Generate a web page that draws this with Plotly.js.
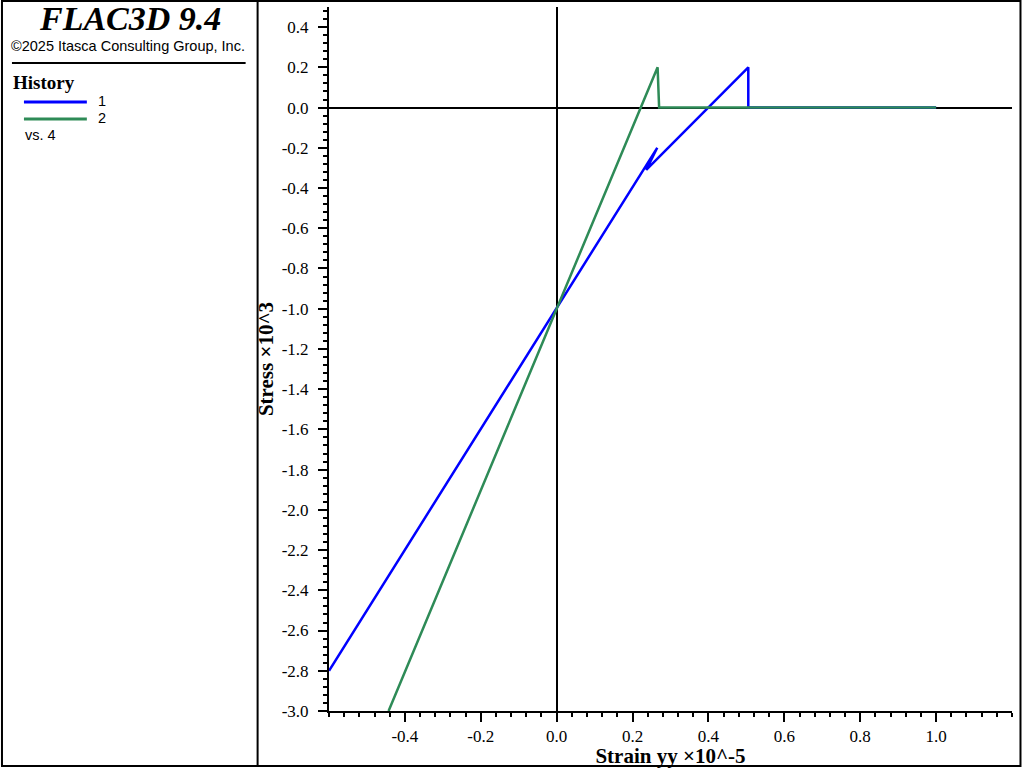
<!DOCTYPE html>
<html>
<head>
<meta charset="utf-8">
<script src="https://cdn.plot.ly/plotly-3.0.1.min.js"></script>
<style>
  body { margin: 0; background: #fff; }
  #chart { width: 1024px; height: 768px; }
</style>
</head>
<body>
<div id="chart"></div>
<script>
// history 1 and 2, stress vs strain yy (history 4)
var strain1 = [-0.6, 0.265, 0.236, 0.505, 0.505, 1.0];
var stress1 = [-2.8, -0.2, -0.31, 0.2, 0.0, 0.0];
var strain2 = [-0.443, 0.266, 0.27, 1.0];
var stress2 = [-3.0, 0.2, 0.0, 0.0];

var historyNames = ['1', '2'];
var historyColors = ['#0000ff', '#2e8b57'];

var xTickVals = [-0.4, -0.2, 0.0, 0.2, 0.4, 0.6, 0.8, 1.0];
var xTickText = ['-0.4', '-0.2', '0.0', '0.2', '0.4', '0.6', '0.8', '1.0'];
var yTickVals = [0.4, 0.2, 0.0, -0.2, -0.4, -0.6, -0.8, -1.0, -1.2, -1.4, -1.6, -1.8,
                 -2.0, -2.2, -2.4, -2.6, -2.8, -3.0];
var yTickText = ['0.4', '0.2', '0.0', '-0.2', '-0.4', '-0.6', '-0.8', '-1.0', '-1.2', '-1.4',
                 '-1.6', '-1.8', '-2.0', '-2.2', '-2.4', '-2.6', '-2.8', '-3.0'];

// plot box in page pixels, used to place the side panel in paper units
var L = 328.5, R = 1012.5, T = 7, B = 711;
function px(x) { return (x - L) / (R - L); }
function py(y) { return (B - y) / (B - T); }

var serif = 'Liberation Serif';
var sans = 'Liberation Sans';

var data = [
  {
    x: strain1, y: stress1, name: historyNames[0],
    type: 'scatter', mode: 'lines',
    line: { color: historyColors[0], width: 2.5 }
  },
  {
    x: strain2, y: stress2, name: historyNames[1],
    type: 'scatter', mode: 'lines',
    line: { color: historyColors[1], width: 2.5 }
  }
];

function axis(extra) {
  var a = {
    showgrid: false,
    zeroline: true,
    zerolinecolor: '#000',
    zerolinewidth: 2,
    showline: true,
    linecolor: '#000',
    linewidth: 2,
    ticks: 'outside',
    ticklen: 9,
    tickwidth: 2,
    tickcolor: '#000',
    tickmode: 'array',
    tickfont: { family: serif, size: 17, color: '#000' },
    minor: { tickmode: 'linear', tick0: 0, dtick: 0.04, ticks: 'outside', ticklen: 4, tickwidth: 2, tickcolor: '#000' }
  };
  for (var k in extra) a[k] = extra[k];
  return a;
}

var layout = {
  width: 1024,
  height: 768,
  showlegend: false,
  hovermode: false,
  font: { family: serif, size: 17, color: '#000' },
  paper_bgcolor: '#fff',
  plot_bgcolor: '#fff',
  margin: { l: L, r: 1024 - R, t: T, b: 768 - B, pad: 0 },
  xaxis: axis({
    range: [-0.6, 1.2],
    tickvals: xTickVals,
    ticktext: xTickText,
    title: { text: '<b>Strain yy ×10^-5</b>', font: { family: serif, size: 21, color: '#000' }, standoff: 4 }
  }),
  yaxis: axis({
    range: [-3.0, 0.5],
    tickvals: yTickVals,
    ticktext: yTickText,
    ticklabelstandoff: 6,
    title: { text: '<b>Stress ×10^3</b>', font: { family: serif, size: 21, color: '#000' }, standoff: 2 }
  }),
  shapes: [
    // outer frame and panel divider
    { type: 'rect', xref: 'paper', yref: 'paper', x0: px(1), x1: px(1021), y0: py(766), y1: py(1),
      line: { color: '#000', width: 2 } },
    { type: 'line', xref: 'paper', yref: 'paper', x0: px(257), x1: px(257), y0: py(766), y1: py(1),
      line: { color: '#000', width: 2 } },
    { type: 'line', xref: 'paper', yref: 'paper', x0: px(11), x1: px(245), y0: py(63), y1: py(63),
      line: { color: '#000', width: 2 } },
    // legend keys
    { type: 'line', xref: 'paper', yref: 'paper', x0: px(23), x1: px(86), y0: py(102), y1: py(102),
      line: { color: historyColors[0], width: 3 } },
    { type: 'line', xref: 'paper', yref: 'paper', x0: px(23), x1: px(86), y0: py(119), y1: py(119),
      line: { color: historyColors[1], width: 3 } }
  ],
  annotations: [
    { xref: 'paper', yref: 'paper', x: px(129), y: py(18), xanchor: 'center', yanchor: 'middle',
      text: '<b><i>FLAC3D 9.4</i></b>', showarrow: false, font: { family: serif, size: 34, color: '#000' } },
    { xref: 'paper', yref: 'paper', x: px(127), y: py(46), xanchor: 'center', yanchor: 'middle',
      text: '©2025 Itasca Consulting Group, Inc.', showarrow: false, font: { family: sans, size: 14.5, color: '#000' } },
    { xref: 'paper', yref: 'paper', x: px(10), y: py(82), xanchor: 'left', yanchor: 'middle',
      text: '<b>History</b>', showarrow: false, font: { family: serif, size: 19, color: '#000' } },
    { xref: 'paper', yref: 'paper', x: px(95), y: py(101), xanchor: 'left', yanchor: 'middle',
      text: historyNames[0], showarrow: false, font: { family: sans, size: 14.5, color: '#000' } },
    { xref: 'paper', yref: 'paper', x: px(95), y: py(118), xanchor: 'left', yanchor: 'middle',
      text: historyNames[1], showarrow: false, font: { family: sans, size: 14.5, color: '#000' } },
    { xref: 'paper', yref: 'paper', x: px(22), y: py(135), xanchor: 'left', yanchor: 'middle',
      text: 'vs. 4', showarrow: false, font: { family: sans, size: 14.5, color: '#000' } }
  ]
};

Plotly.newPlot('chart', data, layout, { staticPlot: true, displayModeBar: false });
</script>
</body>
</html>
